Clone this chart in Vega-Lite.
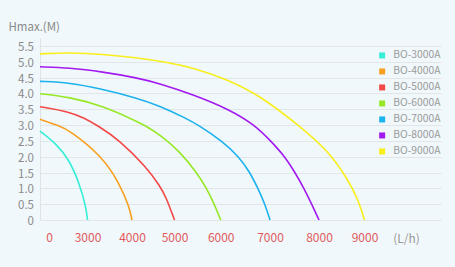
{
  "$schema": "https://vega.github.io/schema/vega-lite/v6.json",
  "width": 401,
  "height": 182,
  "autosize": {"type": "none"},
  "padding": {"left": 40, "top": 38, "right": 14, "bottom": 47},
  "background": "#f1f8fc",
  "config": {
    "view": {"stroke": null},
    "font": "Noto Sans CJK SC"
  },
  "data": {
    "values": [
      {"model": "BO-3000A", "flow": 0, "head": 2.81},
      {"model": "BO-3000A", "flow": 1010, "head": 2.42},
      {"model": "BO-3000A", "flow": 1850, "head": 1.9},
      {"model": "BO-3000A", "flow": 2480, "head": 1.16},
      {"model": "BO-3000A", "flow": 2905, "head": 0.42},
      {"model": "BO-3000A", "flow": 3000, "head": 0},
      {"model": "BO-4000A", "flow": 0, "head": 3.18},
      {"model": "BO-4000A", "flow": 1220, "head": 2.97},
      {"model": "BO-4000A", "flow": 1850, "head": 2.84},
      {"model": "BO-4000A", "flow": 3340, "head": 2.0},
      {"model": "BO-4000A", "flow": 3715, "head": 1.16},
      {"model": "BO-4000A", "flow": 3940, "head": 0.42},
      {"model": "BO-4000A", "flow": 4000, "head": 0},
      {"model": "BO-5000A", "flow": 0, "head": 3.58},
      {"model": "BO-5000A", "flow": 1850, "head": 3.42},
      {"model": "BO-5000A", "flow": 2800, "head": 3.22},
      {"model": "BO-5000A", "flow": 3230, "head": 2.98},
      {"model": "BO-5000A", "flow": 3715, "head": 2.53},
      {"model": "BO-5000A", "flow": 4330, "head": 1.68},
      {"model": "BO-5000A", "flow": 4660, "head": 1.07},
      {"model": "BO-5000A", "flow": 4800, "head": 0.73},
      {"model": "BO-5000A", "flow": 5000, "head": 0},
      {"model": "BO-6000A", "flow": 0, "head": 3.99},
      {"model": "BO-6000A", "flow": 1850, "head": 3.89},
      {"model": "BO-6000A", "flow": 3340, "head": 3.6},
      {"model": "BO-6000A", "flow": 4047, "head": 3.16},
      {"model": "BO-6000A", "flow": 4330, "head": 2.97},
      {"model": "BO-6000A", "flow": 4660, "head": 2.69},
      {"model": "BO-6000A", "flow": 5119, "head": 2.16},
      {"model": "BO-6000A", "flow": 5481, "head": 1.5},
      {"model": "BO-6000A", "flow": 5697, "head": 1.0},
      {"model": "BO-6000A", "flow": 5861, "head": 0.5},
      {"model": "BO-6000A", "flow": 6000, "head": 0},
      {"model": "BO-7000A", "flow": 0, "head": 4.38},
      {"model": "BO-7000A", "flow": 1850, "head": 4.34},
      {"model": "BO-7000A", "flow": 3340, "head": 4.13},
      {"model": "BO-7000A", "flow": 4094, "head": 3.86},
      {"model": "BO-7000A", "flow": 4660, "head": 3.6},
      {"model": "BO-7000A", "flow": 5264, "head": 3.2},
      {"model": "BO-7000A", "flow": 5515, "head": 3.0},
      {"model": "BO-7000A", "flow": 6026, "head": 2.5},
      {"model": "BO-7000A", "flow": 6371, "head": 2.0},
      {"model": "BO-7000A", "flow": 6594, "head": 1.5},
      {"model": "BO-7000A", "flow": 6756, "head": 1.0},
      {"model": "BO-7000A", "flow": 6899, "head": 0.5},
      {"model": "BO-7000A", "flow": 7000, "head": 0},
      {"model": "BO-8000A", "flow": 0, "head": 4.84},
      {"model": "BO-8000A", "flow": 1850, "head": 4.81},
      {"model": "BO-8000A", "flow": 3340, "head": 4.68},
      {"model": "BO-8000A", "flow": 4094, "head": 4.5},
      {"model": "BO-8000A", "flow": 4660, "head": 4.31},
      {"model": "BO-8000A", "flow": 5407, "head": 3.96},
      {"model": "BO-8000A", "flow": 6168, "head": 3.5},
      {"model": "BO-8000A", "flow": 6696, "head": 3.0},
      {"model": "BO-8000A", "flow": 7014, "head": 2.5},
      {"model": "BO-8000A", "flow": 7306, "head": 2.0},
      {"model": "BO-8000A", "flow": 7510, "head": 1.5},
      {"model": "BO-8000A", "flow": 7694, "head": 1.0},
      {"model": "BO-8000A", "flow": 7851, "head": 0.5},
      {"model": "BO-8000A", "flow": 8000, "head": 0},
      {"model": "BO-9000A", "flow": 0, "head": 5.25},
      {"model": "BO-9000A", "flow": 1850, "head": 5.29},
      {"model": "BO-9000A", "flow": 3340, "head": 5.24},
      {"model": "BO-9000A", "flow": 4094, "head": 5.13},
      {"model": "BO-9000A", "flow": 4800, "head": 4.99},
      {"model": "BO-9000A", "flow": 5407, "head": 4.81},
      {"model": "BO-9000A", "flow": 6122, "head": 4.45},
      {"model": "BO-9000A", "flow": 6797, "head": 3.93},
      {"model": "BO-9000A", "flow": 7578, "head": 3.0},
      {"model": "BO-9000A", "flow": 8204, "head": 2.19},
      {"model": "BO-9000A", "flow": 8644, "head": 1.26},
      {"model": "BO-9000A", "flow": 8864, "head": 0.63},
      {"model": "BO-9000A", "flow": 9000, "head": 0}
    ]
  },
  "mark": {"type": "line", "interpolate": "basis", "strokeWidth": 1.6},
  "encoding": {
    "x": {
      "field": "flow",
      "type": "quantitative",
      "scale": {
        "domain": [0, 3000, 4000, 5000, 6000, 7000, 8000, 9000, 10650],
        "range": [0, 47.5, 92, 134.5, 180.7, 230, 279, 324.5, 401],
        "nice": false,
        "zero": false
      },
      "axis": {
        "values": [0, 3000, 4000, 5000, 6000, 7000, 8000, 9000],
        "format": "d",
        "grid": false,
        "domain": false,
        "ticks": false,
        "tickSize": 0,
        "labelColor": "#e05a5a",
        "labelFontSize": 12,
        "labelPadding": 12,
        "labelFlush": false,
        "labelOverlap": false,
        "labelOffset": {"condition": {"test": "datum.value == 0", "value": 9}, "value": 0},
        "title": "(L/h)",
        "titleColor": "#999999",
        "titleFontSize": 12,
        "titleFontWeight": "normal",
        "titleX": 366,
        "titleY": 18.5,
        "titleAlign": "center",
        "titleBaseline": "middle"
      }
    },
    "y": {
      "field": "head",
      "type": "quantitative",
      "scale": {"domain": [0, 5.75], "nice": false, "zero": true},
      "axis": {
        "values": [0, 0.5, 1, 1.5, 2, 2.5, 3, 3.5, 4, 4.5, 5, 5.5],
        "labelExpr": "datum.value == 0 ? '0' : format(datum.value, '.1f')",
        "grid": true,
        "gridColor": "#e3e6e8",
        "gridWidth": 1,
        "domain": true,
        "domainColor": "#e0e3e5",
        "ticks": false,
        "tickSize": 0,
        "labelColor": "#8a8a8a",
        "labelFontSize": 11.5,
        "labelPadding": 6.5,
        "labelOffset": 1.5,
        "title": "Hmax.(M)",
        "titleColor": "#8a8a8a",
        "titleFontSize": 11.5,
        "titleFontWeight": "normal",
        "titleAngle": 0,
        "titleX": -32,
        "titleY": -11,
        "titleAlign": "left",
        "titleBaseline": "middle"
      }
    },
    "color": {
      "field": "model",
      "type": "nominal",
      "scale": {
        "domain": ["BO-3000A", "BO-4000A", "BO-5000A", "BO-6000A", "BO-7000A", "BO-8000A", "BO-9000A"],
        "range": ["#36eed6", "#f7a020", "#f24848", "#96e826", "#1cb2ee", "#a21af0", "#f8ee1a"]
      },
      "legend": {
        "title": null,
        "orient": "none",
        "legendX": 337,
        "legendY": 12.3,
        "symbolType": "square",
        "symbolSize": 9,
        "symbolStrokeWidth": 3,
        "labelFontSize": 10.3,
        "labelColor": "#9a9a9a",
        "labelOffset": 6,
        "rowPadding": 0,
        "padding": 0
      }
    }
  }
}
